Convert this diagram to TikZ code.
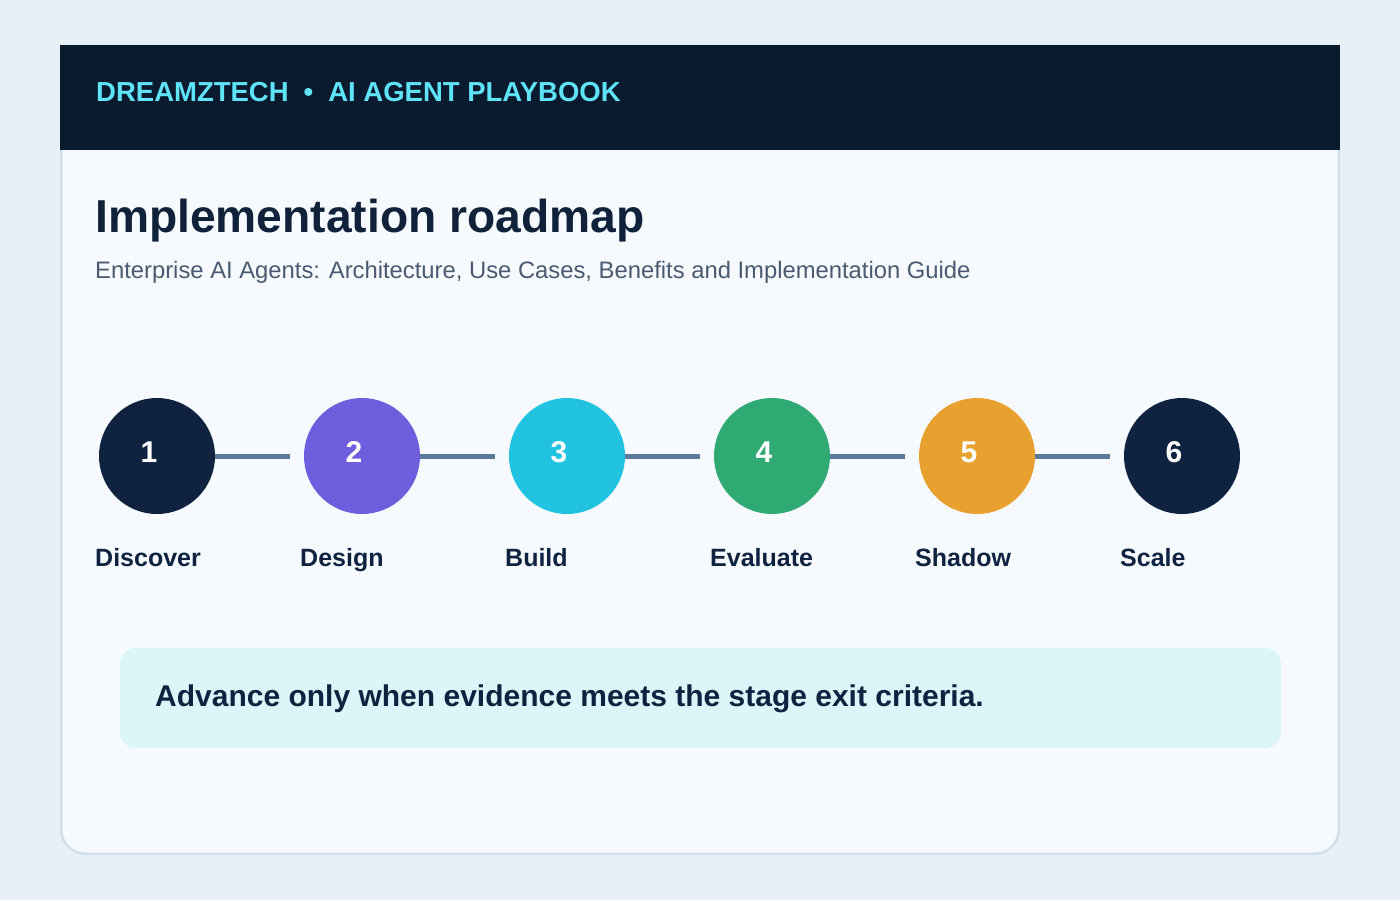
\documentclass[tikz,border=0pt]{standalone}
\usepackage{fontspec}
\setmainfont{Liberation Sans}
\usetikzlibrary{calc}
\definecolor{pagebg}{HTML}{E8F0F7}
\definecolor{cardbg}{HTML}{F6FAFE}
\definecolor{cardborder}{HTML}{D2DFEB}
\definecolor{headbg}{HTML}{0A1A2F}
\definecolor{headtxt}{HTML}{5EE3F7}
\definecolor{titletxt}{HTML}{10213A}
\definecolor{subtxt}{HTML}{4A5A70}
\definecolor{navy}{HTML}{0F2340}
\definecolor{purple}{HTML}{6E5EDE}
\definecolor{cyanc}{HTML}{22C3E0}
\definecolor{greenc}{HTML}{2EAA72}
\definecolor{orangec}{HTML}{E8A02E}
\definecolor{linkc}{HTML}{5B7A99}
\definecolor{notebg}{HTML}{DCF5F9}
\tikzset{
  stepcircle/.style={circle, minimum size=116pt, inner sep=0pt, fill=#1},
  stepnum/.style={text=white, font=\fontsize{30}{36}\selectfont\bfseries, inner sep=0pt, anchor=center},
  steplabel/.style={text=navy, font=\fontsize{25}{30}\selectfont\bfseries, inner sep=0pt, anchor=base west},
  link/.style={draw=linkc, line width=5pt},
  txt/.style={inner sep=0pt, anchor=base west}
}
\begin{document}
\begin{tikzpicture}[x=1pt,y=-1pt]
\fill[pagebg] (0,0) rectangle (1400,900);
\useasboundingbox (0,0) rectangle (1400,900);
% card
\filldraw[fill=cardbg, draw=cardborder, line width=2.5pt, rounded corners=24pt] (61.25,46) rectangle (1338.75,853.75);
\fill[headbg] (60,45) rectangle (1340,150);
\node[txt, text=headtxt, font=\fontsize{27.5}{32}\selectfont\bfseries] (head) at (96,101) {DREAMZTECH\hspace{15pt}•\hspace{15pt}AI AGENT PLAYBOOK};
\node[txt, text=titletxt, font=\fontsize{46.2}{54}\selectfont\bfseries] (title) at (95,232) {Implementation roadmap};
\node[txt, text=subtxt, font=\fontsize{23.8}{28}\selectfont] (sub) at (95,278) {Enterprise AI Agents: Architecture, Use Cases, Benefits and Implementation Guide};
% steps
\foreach \i/\c/\lab in {1/navy/Discover,2/purple/Design,3/cyanc/Build,4/greenc/Evaluate,5/orangec/Shadow,6/navy/Scale}{
  \pgfmathsetmacro{\cx}{157+205*(\i-1)}
  \node[stepcircle=\c] (c\i) at (\cx,456) {};
  \node[stepnum] (n\i) at (\cx-8,452) {\i};
  \node[steplabel] (l\i) at (\cx-62,566.5) {\lab};
}
\foreach \a/\b in {1/2,2/3,3/4,4/5,5/6}{
  \coordinate (e\a) at ($(c\b.west)+(-14,0)$);
  \draw[link] (c\a.east) -- (e\a);
}
% note
\fill[notebg, rounded corners=16pt] (120,648) rectangle (1281,748);
\node[txt, text=navy, font=\fontsize{30}{36}\selectfont\bfseries] (note) at (155,706.5) {Advance only when evidence meets the stage exit criteria.};
\end{tikzpicture}
\end{document}
